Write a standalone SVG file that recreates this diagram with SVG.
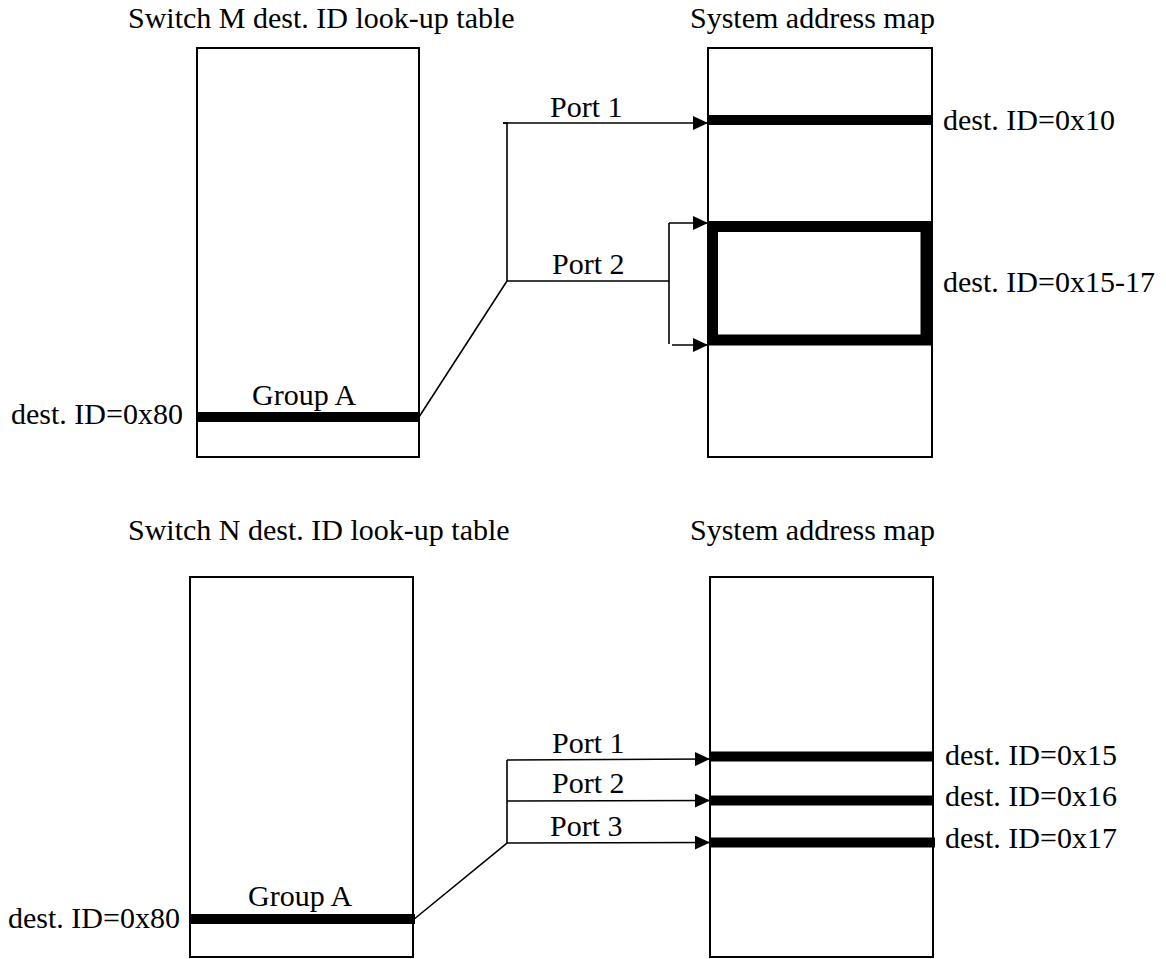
<svg xmlns="http://www.w3.org/2000/svg" width="1166" height="959" viewBox="0 0 1166 959">
  <style>
    text { font-family: "Liberation Serif", "Times New Roman", serif; font-size: 30px; fill: #000; }
    .box { fill: #fff; stroke: #000; stroke-width: 2; }
    .bar { stroke: #000; stroke-width: 10; fill: none; }
    .wire { stroke: #000; stroke-width: 1.6; fill: none; }
    .arrow { stroke: #000; stroke-width: 1.6; fill: none; marker-end: url(#head); }
  </style>
  <defs>
    <marker id="head" viewBox="0 0 15 14" refX="15" refY="7" markerWidth="15" markerHeight="14" markerUnits="userSpaceOnUse" orient="auto">
      <path d="M0,0 L15,7 L0,14 Z" fill="#000"/>
    </marker>
  </defs>
  <rect width="1166" height="959" fill="#fff"/>

  <!-- Upper pair: switch M -->
  <g id="switchM-table">
    <text x="128" y="28">Switch M dest. ID look-up table</text>
    <rect class="box" x="197" y="48" width="222" height="409"/>
    <line class="bar" x1="197" y1="417" x2="419" y2="417"/>
    <text x="252" y="405">Group A</text>
    <text x="11" y="424">dest. ID=0x80</text>
  </g>

  <g id="switchM-map">
    <text x="690" y="28">System address map</text>
    <rect class="box" x="708" y="48" width="224" height="409"/>
    <line class="bar" x1="708" y1="120" x2="932" y2="120"/>
    <rect x="712.5" y="226.5" width="213.5" height="113.5" fill="none" stroke="#000" stroke-width="11"/>
    <text x="943" y="130">dest. ID=0x10</text>
    <text x="943" y="292">dest. ID=0x15-17</text>
  </g>

  <!-- Lower pair: switch N -->
  <g id="switchN-table">
    <text x="128" y="540">Switch N dest. ID look-up table</text>
    <rect class="box" x="190" y="577" width="223" height="380"/>
    <line class="bar" x1="190" y1="919" x2="415" y2="919"/>
    <text x="248" y="906">Group A</text>
    <text x="8" y="928">dest. ID=0x80</text>
  </g>

  <g id="switchN-map">
    <text x="690" y="540">System address map</text>
    <rect class="box" x="710" y="577" width="223" height="380"/>
    <line class="bar" x1="710" y1="756.5" x2="933" y2="756.5"/>
    <line class="bar" x1="710" y1="800.5" x2="933" y2="800.5"/>
    <line class="bar" x1="710" y1="842.5" x2="935" y2="842.5"/>
    <text x="945" y="765">dest. ID=0x15</text>
    <text x="945" y="806">dest. ID=0x16</text>
    <text x="945" y="848">dest. ID=0x17</text>
  </g>

  <g id="connectors">
    <!-- switch M routes -->
    <polyline class="wire" points="419,417 507,281 507,123 503,123"/>
    <line class="arrow" x1="503" y1="123" x2="708" y2="123"/>
    <polyline class="wire" points="507,281 669,281 669,223"/>
    <line class="arrow" x1="669" y1="223" x2="708" y2="223"/>
    <line class="wire" x1="669" y1="281" x2="669" y2="344"/>
    <line class="arrow" x1="672" y1="345" x2="708" y2="345"/>
    <text x="550" y="117">Port 1</text>
    <text x="552" y="274">Port 2</text>

    <!-- switch N routes -->
    <polyline class="wire" points="413,920 507,843 507,760"/>
    <line class="arrow" x1="507" y1="760" x2="710" y2="759"/>
    <line class="arrow" x1="507" y1="801" x2="710" y2="800.5"/>
    <line class="arrow" x1="507" y1="843" x2="710" y2="842.5"/>
    <text x="552" y="753">Port 1</text>
    <text x="552" y="793">Port 2</text>
    <text x="550" y="836">Port 3</text>
  </g>
</svg>
